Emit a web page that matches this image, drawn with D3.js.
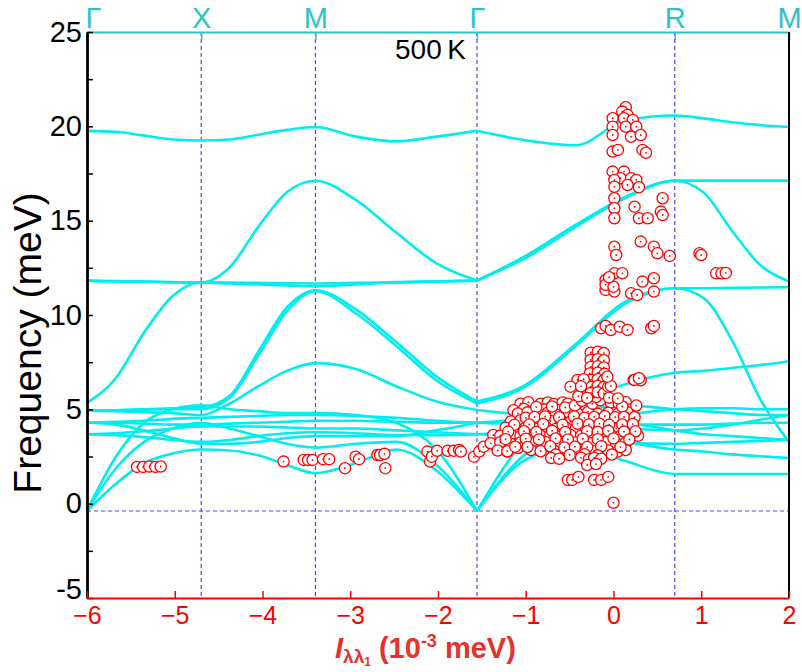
<!DOCTYPE html>
<html>
<head>
<meta charset="utf-8">
<script src="https://cdn.jsdelivr.net/npm/d3@7"></script>
<style>
body { margin: 0; background: #fff; }
svg { display: block; }
text { font-family: "Liberation Sans", Arial, sans-serif; }
</style>
</head>
<body>
<script>
const w = 802;
const h = 672;
const plot = {left: 87, right: 789, top: 32, bottom: 598};

// high-symmetry path (k distance, 2pi/a units)
const highSym = [
	{label: "Γ", k: 0},
	{label: "X", k: 0.5},
	{label: "M", k: 1.0},
	{label: "Γ", k: 1.7071},
	{label: "R", k: 2.5731},
	{label: "M", k: 3.0731}
];
const kPath = [0, 0.125, 0.25, 0.375, 0.5, 0.625, 0.75, 0.875, 1.0,
	1.1768, 1.3536, 1.5303, 1.7071, 1.9236, 2.1401, 2.3566, 2.5731,
	2.6981, 2.8231, 2.9481, 3.0731];

// phonon branches (meV) read along kPath
const ta1 = [0, 1.4, 2.5, 3.0, 3.2, 3.15, 2.9, 2.4, 1.97, 2.5, 3.2, 2.1, 0, 2.7, 3.4, 2.6, 1.93, 1.93, 1.93, 1.93, 1.93];
const ta2 = [0, 2.2, 3.6, 4.3, 4.6, 4.3, 3.9, 3.5, 3.3, 3.5, 3.6, 2.4, 0, 3.0, 4.0, 3.6, 3.2, 3.1, 2.95, 2.85, 2.76];
const la = [0, 2.8, 4.6, 5.3, 5.5, 5.3, 5.2, 5.1, 5.1, 5.0, 4.6, 3.2, 0, 3.8, 5.6, 6.6, 7.2, 7.3, 7.45, 7.6, 7.8];
const opt4 = [4.0, 3.95, 3.85, 3.7, 3.6, 3.7, 3.9, 4.05, 4.1, 4.05, 3.95, 3.95, 4.0, 3.9, 3.7, 3.55, 3.5, 3.55, 3.6, 3.65, 3.7];
const opt5 = [4.0, 4.05, 4.15, 4.3, 4.4, 4.4, 4.4, 4.35, 4.3, 4.3, 4.2, 4.1, 4.0, 4.2, 4.6, 5.0, 5.3, 5.35, 5.35, 5.3, 5.3];
const opt6 = [4.6, 4.65, 4.7, 4.8, 4.85, 4.9, 4.95, 5.0, 5.0, 4.95, 4.85, 4.7, 4.6, 4.5, 4.4, 4.3, 4.2, 4.3, 4.5, 4.75, 5.0];
const opt7 = [4.6, 4.6, 4.55, 4.5, 4.5, 4.55, 4.6, 4.65, 4.7, 4.7, 4.65, 4.6, 4.6, 4.6, 4.55, 4.5, 4.5, 4.5, 4.55, 4.6, 4.6];
const opt8 = [5.22, 5.2, 5.15, 5.1, 5.0, 5.6, 6.5, 7.3, 7.7, 7.4, 6.5, 5.7, 5.26, 5.0, 4.8, 4.6, 4.2, 4.0, 3.9, 3.8, 3.7];
const opt9 = [5.22, 5.25, 5.3, 5.35, 5.4, 6.0, 8.3, 10.6, 11.5, 10.5, 8.8, 7.0, 5.7, 6.6, 8.7, 10.9, 11.6, 11.6, 11.62, 11.64, 11.66];
const opt10 = [5.22, 5.25, 5.28, 5.3, 5.3, 5.9, 8.1, 10.4, 11.45, 10.3, 8.6, 6.8, 5.6, 6.5, 8.6, 10.8, 11.6, 11.1, 8.9, 5.8, 3.6];
const opt11 = [5.64, 6.9, 9.3, 11.2, 11.9, 11.85, 11.8, 11.75, 11.7, 11.8, 11.9, 11.95, 12.0, 13.3, 14.9, 16.35, 17.2, 16.6, 14.6, 12.8, 11.95];
const opt12 = [12.0, 11.95, 11.95, 11.9, 11.9, 12.7, 14.8, 16.6, 17.2, 16.2, 14.5, 12.9, 12.0, 13.3, 14.9, 16.35, 17.2, 17.2, 17.2, 17.2, 17.2];
const opt13 = [12.0, 11.98, 11.95, 11.92, 11.9, 11.9, 11.88, 11.86, 11.85, 11.88, 11.92, 11.96, 12.0, 13.2, 14.8, 16.3, 17.2, 17.2, 17.2, 17.2, 17.2];
const opt14 = [4.6, 4.5, 4.2, 3.8, 3.5, 3.5, 3.6, 3.8, 3.9, 3.9, 3.9, 4.2, 4.6, 4.8, 5.2, 5.5, 5.3, 5.2, 5.1, 5.0, 5.0];
const opt15 = [19.8, 19.75, 19.55, 19.35, 19.3, 19.35, 19.6, 19.85, 20.0, 19.5, 19.25, 19.5, 19.8, 19.3, 19.05, 20.35, 20.6, 20.45, 20.25, 20.1, 20.0];
const branches = [ta1, ta2, la, opt4, opt5, opt6, opt7, opt8, opt9, opt10, opt11, opt12, opt13, opt14, opt15];

// I_λλ1 (1e-3 meV) vs frequency (meV)
const scatterPts = [
	[-5.43, 1.95], [-5.36, 1.95], [-5.29, 1.97], [-5.22, 1.95], [-5.16, 1.97],
	[-3.76, 2.23], [-3.53, 2.32], [-3.48, 2.32], [-3.43, 2.32], [-3.31, 2.36], [-3.24, 2.36], [-3.06, 1.88],
	[-2.94, 2.49], [-2.90, 2.36], [-2.69, 2.58], [-2.66, 2.58], [-2.61, 2.64], [-2.60, 1.88],
	[-2.12, 2.76], [-2.09, 2.23], [-2.07, 2.49], [-2.01, 2.80], [-1.89, 2.80], [-1.82, 2.80], [-1.76, 2.85],
	[-1.74, 2.76], [-1.59, 2.49], [-1.53, 2.76],
	[-1.48, 3.02], [-1.38, 3.20], [-1.37, 3.64], [-1.32, 2.85], [-1.27, 3.55], [-1.21, 2.76], [-1.19, 3.73],
	[-1.15, 3.30], [-1.09, 2.95], [-1.06, 4.00], [-0.98, 3.73], [-0.92, 4.26],
	[-1.06, 5.30], [-0.97, 5.38], [-0.83, 5.30], [-0.75, 5.36], [-0.68, 5.28], [-0.58, 5.36], [-0.52, 5.30],
	[-0.03, 5.36], [0.06, 5.30], [0.14, 5.38],
	[-1.14, 4.95], [-1.02, 5.02], [-0.91, 4.93], [-0.79, 5.00], [-0.64, 4.96], [-0.49, 5.04], [-0.32, 4.94], [0.20, 5.00],
	[-1.09, 4.78], [-0.98, 4.84], [-0.86, 4.76], [-0.75, 4.82], [-0.66, 4.74], [-0.52, 4.84], [-0.41, 4.78],
	[-0.29, 4.86], [-0.18, 4.76], [-0.06, 4.82], [0.05, 4.76], [0.16, 4.84],
	[-1.17, 4.36], [-1.06, 4.42], [-0.94, 4.34], [-0.83, 4.44], [-0.72, 4.38], [-0.60, 4.42], [-0.49, 4.34],
	[-0.37, 4.44], [-0.26, 4.38], [-0.14, 4.46], [-0.03, 4.36], [0.08, 4.42], [0.20, 4.36],
	[-1.23, 4.02], [-1.11, 3.96], [-1.00, 4.04], [-0.89, 3.98], [-0.77, 4.06], [-0.66, 3.96], [-0.54, 4.02],
	[-0.43, 3.98], [-0.32, 4.06], [-0.20, 3.96], [-0.09, 4.04], [0.03, 3.98], [0.14, 4.04],
	[-1.29, 3.60], [-1.17, 3.66], [-1.06, 3.58], [-0.94, 3.64], [-0.83, 3.60], [-0.72, 3.66], [-0.60, 3.58],
	[-0.49, 3.64], [-0.37, 3.60], [-0.26, 3.68], [-0.14, 3.58], [-0.03, 3.64], [0.08, 3.60], [0.20, 3.66], [0.28, 3.60],
	[-1.40, 3.20], [-1.29, 3.26], [-1.17, 3.18], [-1.06, 3.24], [-0.94, 3.20], [-0.77, 3.26], [-0.60, 3.18],
	[-0.43, 3.24], [-0.26, 3.20], [-0.09, 3.26], [0.03, 3.18], [0.14, 3.24],
	[-1.32, 2.82], [-1.21, 2.78], [-0.94, 2.84], [-0.83, 2.78], [-0.68, 2.82], [-0.52, 2.76], [-0.37, 2.84],
	[-0.22, 2.78], [-0.06, 2.82], [0.05, 2.76], [0.14, 2.84],
	[-0.88, 5.12], [-0.70, 5.15], [-0.55, 5.10], [-0.44, 5.20], [-0.36, 5.45], [-0.24, 5.30], [-0.15, 5.48],
	[-0.40, 5.70], [-0.20, 5.65], [0.10, 5.15], [0.26, 5.20],
	[-1.00, 4.55], [-0.90, 4.60], [-0.78, 4.62], [-0.62, 4.58], [-0.45, 4.62], [-0.33, 4.55], [-0.22, 4.60],
	[-0.10, 4.64], [0.02, 4.58], [0.12, 4.60], [0.24, 4.58],
	[-1.13, 4.18], [-0.96, 4.20], [-0.80, 4.22], [-0.58, 4.18], [-0.41, 4.24], [-0.28, 4.20], [-0.16, 4.24],
	[-0.05, 4.18], [0.10, 4.20], [0.22, 4.22],
	[-1.20, 3.82], [-1.02, 3.84], [-0.88, 3.80], [-0.70, 3.86], [-0.55, 3.80], [-0.30, 3.84], [-0.18, 3.80],
	[-0.06, 3.86], [0.12, 3.82], [0.25, 3.84],
	[-1.23, 3.42], [-1.00, 3.44], [-0.85, 3.40], [-0.66, 3.46], [-0.52, 3.40], [-0.35, 3.44], [-0.18, 3.42],
	[0.00, 3.46], [0.18, 3.40],
	[-1.12, 3.02], [-0.98, 3.00], [-0.72, 3.04], [-0.56, 2.98], [-0.44, 3.02], [-0.30, 3.00], [-0.14, 3.04], [0.08, 3.00],
	[-0.66, 2.60], [-0.50, 2.58], [-0.33, 2.62], [-0.18, 2.56], [-0.02, 2.60],
	[-0.71, 2.42], [-0.62, 2.38], [-0.37, 2.44], [-0.28, 2.36], [-0.22, 2.42], [-0.14, 2.38],
	[-0.30, 2.05], [-0.20, 2.10],
	[-0.52, 1.26], [-0.47, 1.26], [-0.40, 1.42], [-0.22, 1.26], [-0.14, 1.26], [-0.06, 1.42],
	[0.00, 0.05],
	[-0.26, 8.00], [-0.18, 8.05], [-0.11, 7.98], [-0.26, 7.62], [-0.18, 7.66], [-0.11, 7.60],
	[-0.26, 7.25], [-0.18, 7.28], [-0.11, 7.22], [-0.27, 6.90], [-0.18, 6.94], [-0.10, 6.88],
	[-0.26, 6.56], [-0.18, 6.60], [-0.11, 6.54], [-0.26, 6.20], [-0.18, 6.24], [-0.11, 6.18],
	[-0.26, 5.86], [-0.18, 5.90], [-0.11, 5.84],
	[-0.41, 6.56], [-0.34, 6.60], [0.23, 6.56], [0.28, 6.62], [0.31, 6.54], [-0.49, 6.20], [-0.37, 6.22],
	[-0.06, 6.20], [-0.03, 6.24], [-0.30, 5.60], [-0.05, 5.62], [0.05, 5.58],
	[0.24, 6.56], [0.29, 6.65], [-0.07, 6.73],
	[-0.14, 9.30], [-0.09, 9.42], [-0.03, 9.20], [0.07, 9.38], [0.16, 9.21], [0.43, 9.30], [0.46, 9.42],
	[-0.09, 11.86], [0.01, 12.21], [0.10, 12.21], [-0.09, 11.33], [0.01, 11.24], [0.20, 11.15], [0.27, 11.06],
	[0.33, 11.77], [0.46, 11.95], [0.46, 11.24], [1.17, 12.21], [1.23, 12.21], [1.28, 12.23],
	[-0.09, 11.60], [0.00, 11.50], [-0.05, 12.00],
	[0.01, 13.62], [0.03, 13.18], [0.31, 13.89], [0.46, 13.62], [0.50, 13.27], [0.64, 13.13], [0.98, 13.27], [1.00, 13.18],
	[0.01, 16.19], [0.56, 16.19], [0.01, 15.66], [0.24, 15.74], [0.54, 15.48], [0.01, 15.13], [0.29, 15.13],
	[0.39, 15.13], [0.56, 15.30],
	[-0.01, 17.60], [0.12, 17.60], [0.08, 17.25], [0.20, 17.25], [0.01, 17.16], [0.26, 17.16], [0.01, 16.80],
	[0.16, 16.89], [0.29, 16.77],
	[0.14, 21.01], [0.10, 20.78], [0.16, 20.60], [-0.01, 20.43], [0.12, 20.43], [0.22, 20.34], [-0.01, 19.98],
	[0.14, 19.98], [0.26, 19.98], [-0.01, 19.54], [0.20, 19.45], [0.31, 19.54], [-0.01, 18.66], [0.05, 18.75],
	[0.33, 18.75], [0.37, 18.60]
];

const xTicks = [-6, -5, -4, -3, -2, -1, 0, 1, 2];
const yTicks = [-5, -2.5, 0, 2.5, 5, 7.5, 10, 12.5, 15, 17.5, 20, 22.5, 25];

const cyan = "#00eeee";
const teal = "#2ec3c9";
const dashBlue = "#4a4aff";
const red = "#ff0000";

const xScale = d3.scaleLinear().domain([-6, 2]).range([plot.left, plot.right]);
const yScale = d3.scaleLinear().domain([-5, 25]).range([plot.bottom, plot.top]);
const kScale = d3.scaleLinear().domain([0, 3.0731]).range([plot.left, plot.right]);
// the dispersion overlay sits on its own frequency scale
const phScale = d3.scaleLinear().domain([0, 20]).range([511, 127]);

const svg = d3.select("body")
	.append("svg")
	.attr("width", w)
	.attr("height", h);

// dashed guides
svg.selectAll("line.vguide")
	.data(highSym.slice(1, -1))
	.enter()
	.append("line")
	.attr("class", "vguide")
	.attr("x1", (d) => kScale(d.k))
	.attr("x2", (d) => kScale(d.k))
	.attr("y1", plot.top)
	.attr("y2", plot.bottom)
	.attr("stroke", dashBlue)
	.attr("stroke-width", 1.2)
	.attr("stroke-dasharray", "4,3");

svg.append("line")
	.attr("x1", plot.left)
	.attr("x2", plot.right)
	.attr("y1", phScale(0))
	.attr("y2", phScale(0))
	.attr("stroke", dashBlue)
	.attr("stroke-width", 1.2)
	.attr("stroke-dasharray", "4,3");

// phonon branches, split at the inner Γ so acoustic modes keep their cusp
const line = d3.line()
	.x((d) => kScale(d[0]))
	.y((d) => phScale(d[1]))
	.curve(d3.curveMonotoneX);

const gIdx = 12;
branches.forEach((b) => {
	const pts = b.map((f, i) => [kPath[i], f]);
	[pts.slice(0, gIdx + 1), pts.slice(gIdx)].forEach((seg) => {
		svg.append("path")
			.attr("d", line(seg))
			.attr("fill", "none")
			.attr("stroke", cyan)
			.attr("stroke-width", 2.6);
	});
});

// top axis: high-symmetry labels
const topAxis = d3.axisTop(kScale)
	.tickValues(highSym.map((d) => d.k))
	.tickFormat((d, i) => highSym[i].label)
	.tickSizeInner(-8)
	.tickSizeOuter(0)
	.tickPadding(4);

const gTop = svg.append("g")
	.attr("transform", "translate(0," + plot.top + ")")
	.call(topAxis);
gTop.select(".domain").attr("stroke", teal).attr("stroke-width", 2);
gTop.selectAll(".tick line").attr("stroke", teal).attr("stroke-width", 1.5);
gTop.selectAll(".tick text")
	.attr("fill", teal)
	.attr("font-size", "29px")
	.style("font-family", "'Liberation Sans', Arial, sans-serif");
gTop.selectAll(".tick text").filter((d, i) => i === 0)
	.attr("text-anchor", "start")
	.attr("dx", -2);

// right frame
svg.append("line")
	.attr("x1", plot.right)
	.attr("x2", plot.right)
	.attr("y1", plot.top)
	.attr("y2", plot.bottom)
	.attr("stroke", "#000")
	.attr("stroke-width", 2);

// left axis
const yAxis = d3.axisLeft(yScale)
	.tickValues(yTicks)
	.tickFormat((d) => d % 5 === 0 ? d : "")
	.tickSizeInner(-6)
	.tickSizeOuter(0)
	.tickPadding(5);

const gY = svg.append("g")
	.attr("transform", "translate(" + plot.left + ",0)")
	.call(yAxis);
gY.select(".domain").attr("stroke", "#000").attr("stroke-width", 2.8);
gY.selectAll(".tick line").attr("stroke", "#000").attr("stroke-width", 1.5);
gY.selectAll(".tick text")
	.attr("fill", "#000")
	.attr("font-size", "29px")
	.style("font-family", "'Liberation Sans', Arial, sans-serif");
gY.selectAll(".tick text").filter((d) => d === -5)
	.attr("dy", "0.02em");

// bottom axis
const xAxis = d3.axisBottom(xScale)
	.tickValues(xTicks)
	.tickFormat(d3.format("d"))
	.tickSizeInner(-7)
	.tickSizeOuter(0)
	.tickPadding(8);

const gX = svg.append("g")
	.attr("transform", "translate(0," + plot.bottom + ")")
	.call(xAxis);
gX.select(".domain").attr("stroke", red).attr("stroke-width", 2);
gX.selectAll(".tick line").attr("stroke", red).attr("stroke-width", 1.5);
gX.selectAll(".tick text")
	.attr("fill", red)
	.attr("font-size", "25px")
	.style("font-family", "'Liberation Sans', Arial, sans-serif");

// scatter
const dots = svg.selectAll("g.pt")
	.data(scatterPts)
	.enter()
	.append("g")
	.attr("class", "pt")
	.attr("transform", (d) => "translate(" + xScale(d[0]) + "," + yScale(d[1]) + ")");
dots.append("circle")
	.attr("r", 5.6)
	.attr("fill", "#fff")
	.attr("stroke", red)
	.attr("stroke-width", 1.3);
dots.append("circle")
	.attr("r", 0.9)
	.attr("fill", red);

// labels
svg.append("text")
	.attr("x", 395)
	.attr("y", 59)
	.attr("font-size", "28px")
	.attr("fill", "#000")
	.text("500\u2009K");

svg.append("text")
	.attr("transform", "translate(41,343) rotate(-90)")
	.attr("text-anchor", "middle")
	.attr("font-size", "39px")
	.attr("fill", "#000")
	.text("Frequency (meV)");

const xTitle = svg.append("text")
	.attr("x", 335)
	.attr("y", 658)
	.attr("fill", "#e5322d")
	.attr("font-weight", "bold")
	.attr("font-size", "29px");
xTitle.append("tspan").attr("font-style", "italic").text("I");
xTitle.append("tspan").attr("font-size", "19px").attr("dy", 5).text("λλ");
xTitle.append("tspan").attr("font-size", "12px").attr("dy", 3).text("1");
xTitle.append("tspan").attr("dy", -8).text("\u00a0(10");
xTitle.append("tspan").attr("font-size", "18px").attr("dy", -11).text("-3");
xTitle.append("tspan").attr("dy", 11).text("\u00a0meV)");
</script>
</body>
</html>
